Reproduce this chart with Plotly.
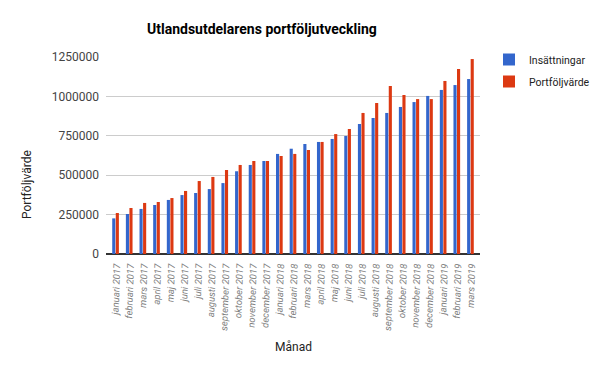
import plotly.graph_objects as go

months = ["januari 2017", "februari 2017", "mars 2017", "april 2017", "maj 2017", "juni 2017",
          "juli 2017", "augusti 2017", "september 2017", "oktober 2017", "november 2017", "december 2017",
          "januari 2018", "februari 2018", "mars 2018", "april 2018", "maj 2018", "juni 2018",
          "juli 2018", "augusti 2018", "september 2018", "oktober 2018", "november 2018", "december 2018",
          "januari 2019", "februari 2019", "mars 2019"]

insattningar = [226000, 254000, 286000, 311000, 343000, 374000, 387000, 412000, 450000, 525000, 565000, 590000,
                635000, 668000, 698000, 711000, 730000, 749000, 825000, 863000, 895000, 933000, 964000, 1003000,
                1041000, 1072000, 1110000]

portfoljvarde = [260000, 292000, 324000, 330000, 355000, 400000, 463000, 489000, 533000, 565000, 590000, 590000,
                 622000, 635000, 660000, 711000, 761000, 793000, 895000, 958000, 1066000, 1009000, 983000, 983000,
                 1098000, 1174000, 1237000]

y_ticks = [0, 250000, 500000, 750000, 1000000, 1250000]

# page body has an 8px default margin, so the figure is drawn offset by 8px
OFF = 8
SW, SH = 603, 373          # screen size
L, R, T, B = 106, 480, 57, 254   # plot area in screen pixels

def px_x(px):
    return (px - L) / (R - L)

def px_y(py):
    return (B - py) / (B - T)

fig = go.Figure()
fig.add_trace(go.Bar(x=months, y=insattningar, name="Insättningar", marker_color="#3366CC",
                     marker_line_width=0, legendgroup="a"))
fig.add_trace(go.Bar(x=months, y=portfoljvarde, name="Portföljvärde", marker_color="#DC3912",
                     marker_line_width=0, legendgroup="b"))

fig.update_layout(
    width=SW - OFF, height=SH - OFF,
    margin=dict(l=L - OFF, r=SW - R, t=T - OFF, b=SH - B, pad=0, autoexpand=False),
    paper_bgcolor="white", plot_bgcolor="white",
    font=dict(family="Roboto", size=12, color="#444"),
    barmode="group", bargap=0.48, bargroupgap=0.12,
    showlegend=True,
    legend=dict(x=px_x(489), y=px_y(45), xanchor="left", yanchor="top",
                font=dict(family="Roboto", size=10.5, color="#222"),
                tracegroupgap=3, itemwidth=30, bgcolor="rgba(0,0,0,0)"),
    xaxis=dict(type="category", range=[-0.7, 26.7], tickangle=-88,
               tickfont=dict(family="Roboto", size=9.5, color="#808080", style="italic"),
               showgrid=False, showline=False, zeroline=False, ticks="", ticklabelstandoff=4),
    yaxis=dict(range=[0, 1250000], tickvals=y_ticks, ticktext=[str(v) for v in y_ticks],
               tickfont=dict(family="Roboto", size=12, color="#444"),
               showgrid=True, gridcolor="#CCCCCC", gridwidth=1,
               zeroline=True, zerolinecolor="#333333", zerolinewidth=1.5,
               showline=False, ticks="", ticklabelstandoff=6),
    annotations=[
        dict(text="<b>Utlandsutdelarens portföljutveckling</b>", xref="paper", yref="paper",
             x=px_x(262), y=px_y(29), xanchor="center", yanchor="middle", showarrow=False,
             font=dict(family="Roboto", size=14, color="#000")),
        dict(text="Portföljvärde", xref="paper", yref="paper", x=px_x(27), y=px_y(185),
             xanchor="center", yanchor="middle", showarrow=False, textangle=-90,
             font=dict(family="Roboto", size=12, color="#222")),
        dict(text="Månad", xref="paper", yref="paper", x=px_x(293), y=px_y(347),
             xanchor="center", yanchor="middle", showarrow=False,
             font=dict(family="Roboto", size=12, color="#222")),
    ],
)

fig.write_html("out.html")
